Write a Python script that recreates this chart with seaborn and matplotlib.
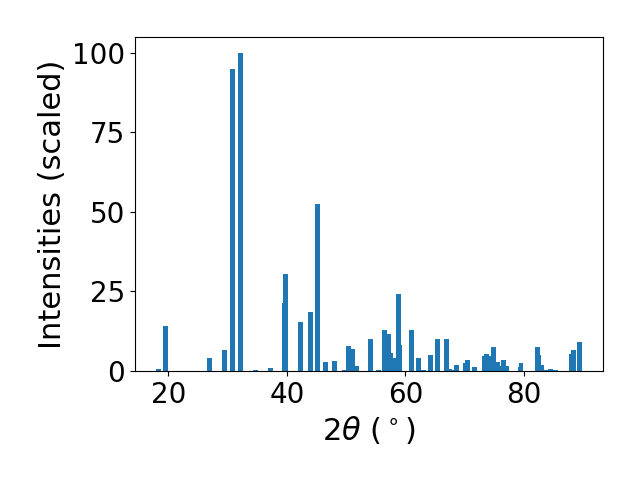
import numpy as np
import matplotlib
matplotlib.use("Agg")
import matplotlib.pyplot as plt
import seaborn as sns

# peak positions (2theta, degrees) and scaled intensities
two_theta = [18.38, 19.48, 26.90, 29.43, 30.86, 32.13, 34.74, 37.19, 39.55, 39.72,
             42.25, 43.94, 45.12, 46.47, 48.07, 49.64, 50.35, 51.02, 51.70, 54.06,
             55.41, 56.42, 57.09, 57.43, 57.94, 58.78, 58.95, 60.98, 62.24, 63.09,
             64.18, 65.36, 66.96, 67.40, 68.20, 68.65, 70.08, 70.42, 71.60, 73.29,
             73.63, 73.96, 74.81, 75.48, 75.65, 76.50, 77.00, 79.33, 79.50, 82.23,
             82.40, 82.90, 83.67, 84.42, 85.35, 87.97, 88.30, 89.30]
intensity = [0.5, 14.0, 4.0, 6.5, 95.0, 100.0, 0.3, 0.9, 21.5, 30.6,
             15.3, 18.5, 52.4, 2.8, 3.1, 0.3, 7.8, 6.9, 1.6, 10.0,
             0.3, 12.9, 11.6, 5.7, 4.1, 24.2, 8.2, 12.9, 4.0, 0.3,
             5.0, 10.0, 10.0, 0.6, 0.3, 1.9, 2.5, 3.4, 1.2, 4.7,
             5.3, 4.7, 7.5, 2.8, 1.5, 3.4, 1.6, 1.2, 2.5, 7.5,
             5.0, 1.9, 0.3, 0.6, 0.4, 5.3, 6.5, 9.0]

# plain matplotlib look, seaborn only for the palette
sns.reset_orig()
plt.rcParams['font.family'] = ['DejaVu Sans']

fig, ax = plt.subplots(figsize=(6.4, 4.8), dpi=100)
fig.subplots_adjust(left=0.211, right=0.942, top=0.923, bottom=0.227)
ax.bar(two_theta, intensity, width=0.8, color=sns.color_palette("tab10")[0], linewidth=0)

ax.set_ylim(0, 105)
ax.set_yticks([0, 25, 50, 75, 100])
ax.set_xlabel(r"$2\theta$ ($^\circ$)", fontsize=22)
ax.set_ylabel("Intensities (scaled)", fontsize=22)
ax.tick_params(labelsize=20)

plt.savefig("out.png")
